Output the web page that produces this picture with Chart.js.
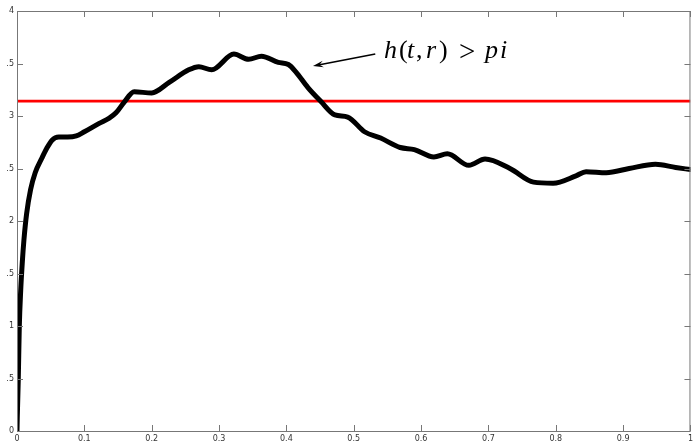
<!DOCTYPE html>
<html>
<head>
<meta charset="utf-8">
<title>h(t, r) &gt; pi</title>
<script src="https://cdn.jsdelivr.net/npm/chart.js@4/dist/chart.umd.min.js"></script>
<style>
  html, body { margin: 0; padding: 0; background: #fff; }
  canvas { display: block; }
</style>
</head>
<body>
<canvas id="chart" width="696" height="443"></canvas>
<script>
// values
const xValues = [0, 0.0004, 0.0019, 0.0034, 0.0055, 0.0078, 0.0103, 0.0143, 0.0202, 0.027,
  0.037, 0.044, 0.052, 0.062, 0.075, 0.088, 0.1, 0.122, 0.137, 0.147, 0.159, 0.174,
  0.2, 0.226, 0.255, 0.27, 0.289, 0.322, 0.344, 0.363, 0.388, 0.403,
  0.414, 0.432, 0.451, 0.472, 0.491, 0.516, 0.54, 0.569, 0.59, 0.619,
  0.639, 0.671, 0.695, 0.732, 0.767, 0.796, 0.83, 0.845, 0.875, 0.909,
  0.948, 0.978, 1.0];
const yValues = [0, 0.13, 0.49, 0.99, 1.34, 1.6, 1.82, 2.07, 2.3, 2.46,
  2.6, 2.69, 2.77, 2.8, 2.8, 2.81, 2.85, 2.93, 2.98, 3.03, 3.13, 3.23,
  3.22, 3.32, 3.44, 3.47, 3.44, 3.59, 3.54, 3.57, 3.51, 3.49,
  3.42, 3.27, 3.14, 3.01, 2.99, 2.85, 2.79, 2.7, 2.68, 2.61,
  2.64, 2.53, 2.59, 2.5, 2.37, 2.36, 2.43, 2.47, 2.46, 2.5,
  2.54, 2.51, 2.49];
const thresholdX = [0, 1];
const thresholdY = [3.1416, 3.1416];
const xTickLabels = ['0', '0.1', '0.2', '0.3', '0.4', '0.5', '0.6', '0.7', '0.8', '0.9', '1'];
const yTickLabels = ['0', '.5', '1', '.5', '2', '.5', '3', '.5', '4'];

const axisColor = '#777';
const tickFont = { family: 'DejaVu Sans', size: 8 };

// box round the plot and short inward ticks on all four sides
const boxPlugin = {
  id: 'box',
  afterDraw(chart) {
    const { ctx, chartArea: a, scales } = chart;
    ctx.save();
    ctx.strokeStyle = axisColor;
    ctx.lineWidth = 1;
    ctx.strokeRect(a.left + 0.5, a.top + 0.5, a.right - a.left - 1, a.bottom - a.top);
    ctx.beginPath();
    scales.x.ticks.forEach(t => {
      const px = Math.round(scales.x.getPixelForValue(t.value)) + 0.5;
      ctx.moveTo(px, a.bottom); ctx.lineTo(px, a.bottom - 6);
      ctx.moveTo(px, a.top); ctx.lineTo(px, a.top + 6);
    });
    scales.y.ticks.forEach(t => {
      const py = Math.round(scales.y.getPixelForValue(t.value)) + 0.5;
      ctx.moveTo(a.left, py); ctx.lineTo(a.left + 6, py);
      ctx.moveTo(a.right, py); ctx.lineTo(a.right - 6, py);
    });
    ctx.stroke();
    ctx.restore();
  }
};

// arrow and the formula label
const notePlugin = {
  id: 'note',
  afterDraw(chart) {
    const { ctx, scales: { x, y } } = chart;
    const tipX = x.getPixelForValue(0.4395), tipY = y.getPixelForValue(3.476);
    const tailX = x.getPixelForValue(0.532), tailY = y.getPixelForValue(3.59);
    ctx.save();
    ctx.strokeStyle = '#000';
    ctx.fillStyle = '#000';
    ctx.lineWidth = 1.6;
    ctx.beginPath();
    ctx.moveTo(tailX, tailY);
    ctx.lineTo(tipX + 4, tipY - 0.8);
    ctx.stroke();
    const ang = Math.atan2(tipY - tailY, tipX - tailX);
    const len = 11;
    ctx.beginPath();
    ctx.moveTo(tipX, tipY);
    ctx.lineTo(tipX - len * Math.cos(ang - 0.3), tipY - len * Math.sin(ang - 0.3));
    ctx.lineTo(tipX - 0.6 * len * Math.cos(ang), tipY - 0.6 * len * Math.sin(ang));
    ctx.lineTo(tipX - len * Math.cos(ang + 0.3), tipY - len * Math.sin(ang + 0.3));
    ctx.closePath();
    ctx.fill();

    // math-style text: italic letters, upright symbols
    const startX = x.getPixelForValue(0.545);
    const baseY = y.getPixelForValue(3.548);
    const pieces = [
      ['h', true, 0, 0], ['(', false, 15, 0], ['t', true, 23, 0], [',', false, 32, 0],
      ['r', true, 42, 0], [')', false, 55, 0], ['>', false, 75, 3], ['p', true, 101, 0], ['i', true, 116, 0]
    ];
    ctx.textBaseline = 'alphabetic';
    pieces.forEach(([s, it, dx, dy]) => {
      ctx.font = (it ? 'italic ' : '') + (s === '>' ? '29px' : '26px') + ' "Liberation Serif"';
      ctx.fillText(s, startX + dx, baseY + dy);
    });
    ctx.restore();
  }
};

new Chart(document.getElementById('chart'), {
  type: 'scatter',
  data: {
    datasets: [
      {
        label: 'h(t, r)',
        data: xValues.map((v, i) => ({ x: v, y: yValues[i] })),
        showLine: true,
        borderColor: '#000',
        borderWidth: 5,
        pointRadius: 0,
        cubicInterpolationMode: 'monotone',
        borderCapStyle: 'round',
        borderJoinStyle: 'round',
        order: 1
      },
      {
        label: 'pi',
        data: thresholdX.map((v, i) => ({ x: v, y: thresholdY[i] })),
        showLine: true,
        borderColor: '#f00',
        borderWidth: 2.8,
        pointRadius: 0,
        order: 2
      }
    ]
  },
  options: {
    responsive: false,
    animation: false,
    layout: { padding: { top: 11, right: 1, left: 0, bottom: 0 } },
    plugins: { legend: { display: false }, tooltip: { enabled: false } },
    scales: {
      x: {
        type: 'linear', min: 0, max: 1,
        border: { display: false },
        grid: { display: false, drawTicks: false },
        ticks: {
          stepSize: 0.1, autoSkip: false, maxRotation: 0,
          padding: 3, color: '#333', font: tickFont,
          callback: (v, i) => xTickLabels[i]
        },
        afterFit: s => { s.height = 12; }
      },
      y: {
        min: 0, max: 4,
        border: { display: false },
        grid: { display: false, drawTicks: false },
        ticks: {
          stepSize: 0.5, autoSkip: false,
          padding: 3, color: '#333', font: tickFont,
          callback: (v, i) => yTickLabels[i]
        },
        afterFit: s => { s.width = 17; }
      }
    }
  },
  plugins: [boxPlugin, notePlugin]
});
</script>
</body>
</html>
